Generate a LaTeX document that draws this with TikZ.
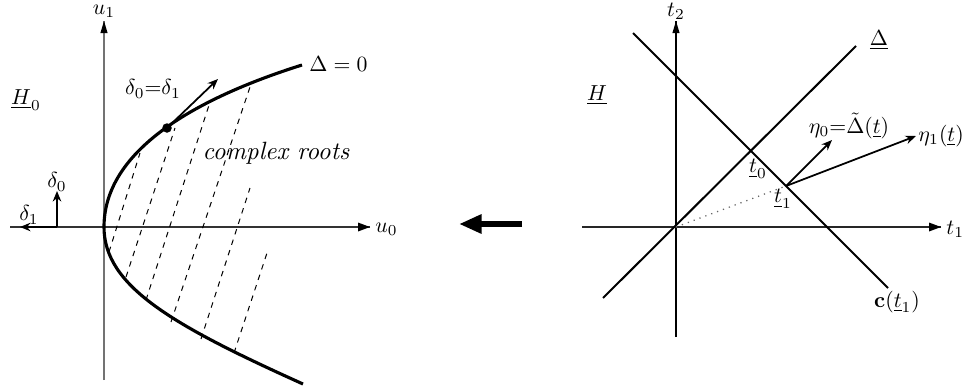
\documentclass[tikz,border=0pt]{standalone}
\usetikzlibrary{arrows.meta}
\begin{document}
\begin{tikzpicture}[x=0.4pt,y=-0.4pt,
  curve/.style={line width=1.25pt},
  dline/.style={line width=0.4pt,dash pattern=on 2.2pt off 2.2pt},
  vec/.style={line width=0.7pt,-{Stealth[length=4.2pt,width=3.4pt]}},
  diag/.style={line width=0.8pt},
  lab/.style={inner sep=0pt,scale=0.87}]
\useasboundingbox (0,0) rectangle (966,387);
% ---------- left panel ----------
\coordinate (U1b) at (104,380);
\coordinate (U1t) at (104,21);
\coordinate (U0l) at (10,227);
\coordinate (U0r) at (370,227);
\draw[line width=0.55pt,black!55] (U1b) -- (U1t);
\fill[black] (U1t) -- ++(-3.6,12) -- ++(7.2,0) -- cycle;
\draw[line width=0.5pt,black!80] (U0l) -- (U0r);
\fill[black] (U0r) -- ++(-12,-4.5) -- ++(0,9) -- cycle;
\node[lab] (u1) at (104,11) {$u_1$};
\node[lab,anchor=west] (u0) at (375,229) {$u_0$};
% dashed lines
\draw[dline] (109,252) -- (140,153);
\draw[dline] (126,277) -- (175,128);
\draw[dline] (146,300) -- (210,102);
\draw[dline] (171,322) -- (250,87);
\draw[dline] (201,339) -- (250,188);
\draw[dline] (234,353) -- (267,253);
% parabola
\coordinate (V) at (104,227);
\coordinate (Ptop) at (302,65);
\coordinate (Pbot) at (303,384);
\draw[curve] (Ptop) .. controls (194,99) and (104,151) .. (V)
   .. controls (104,286) and (172,325) .. (Pbot);
\coordinate (P) at (167,128);
\coordinate (Ptip) at (218,79);
\fill (P) circle (1.9pt);
\draw[vec] (P) -- (Ptip);
\node[lab] (d01) at (153,89) {$\delta_0{=}\delta_1$};
\node[lab,anchor=west] (D0) at (309,64) {$\Delta = 0$};
\node[lab] (H0) at (26,100) {$\underline{H}_0$};
\node[inner sep=0pt] (cr) at (276,153) {\textit{complex roots}};
% small frame
\coordinate (F) at (57,227);
\draw[vec] (F) -- (57,191);
\draw[vec] (F) -- (20,227);
\node[lab] (d0) at (57,182) {$\delta_0$};
\node[lab] (d1) at (29,215) {$\delta_1$};
% ---------- middle arrow ----------
\coordinate (Ma) at (522,224);
\coordinate (Mb) at (459,224);
\draw[line width=2.3pt,-{Triangle[length=9pt,width=7.2pt]}] (Ma) -- (Mb);
% ---------- right panel ----------
\coordinate (O) at (676,227);
\coordinate (T2b) at (676,337);
\coordinate (T2t) at (676,21);
\coordinate (T1l) at (582,227);
\coordinate (T1r) at (941,227);
\draw[line width=0.45pt] (T2b) -- (T2t);
\fill (T2t) -- ++(-3.6,12) -- ++(7.2,0) -- cycle;
\draw[line width=0.5pt,black!85] (T1l) -- (T1r);
\fill (T1r) -- ++(-12,-4.5) -- ++(0,9) -- cycle;
\node[lab] (t2) at (676,11) {$t_2$};
\node[lab,anchor=west] (t1) at (946,229) {$t_1$};
\coordinate (Da) at (603,298);
\coordinate (Db) at (856,46);
\coordinate (Ca) at (633,33);
\coordinate (Cb) at (888,288);
\draw[diag] (Da) -- (Db);
\draw[diag] (Ca) -- (Cb);
\coordinate (Q) at (786,186);
\draw[line width=0.5pt,black!60,dotted] (O) -- (Q);
\draw[vec] (Q) -- (832,140);
\draw[vec] (Q) -- (916,136);
\node[lab] (Dl) at (879,40) {$\underline{\Delta}$};
\node[lab] (H) at (597,95) {$\underline{H}$};
\node[lab] (eta0) at (849,126) {$\eta_0{=}\tilde{\Delta}(\underline{t})$};
\node[lab,anchor=west] (eta1) at (918,136) {$\eta_1(\underline{t})$};
\node[lab] (tt0) at (758,169) {$\underline{t}_0$};
\node[lab] (tt1) at (783,199) {$\underline{t}_1$};
\node[lab] (ct1) at (897,302) {$\mathbf{c}(\underline{t}_1)$};
\end{tikzpicture}
\end{document}
